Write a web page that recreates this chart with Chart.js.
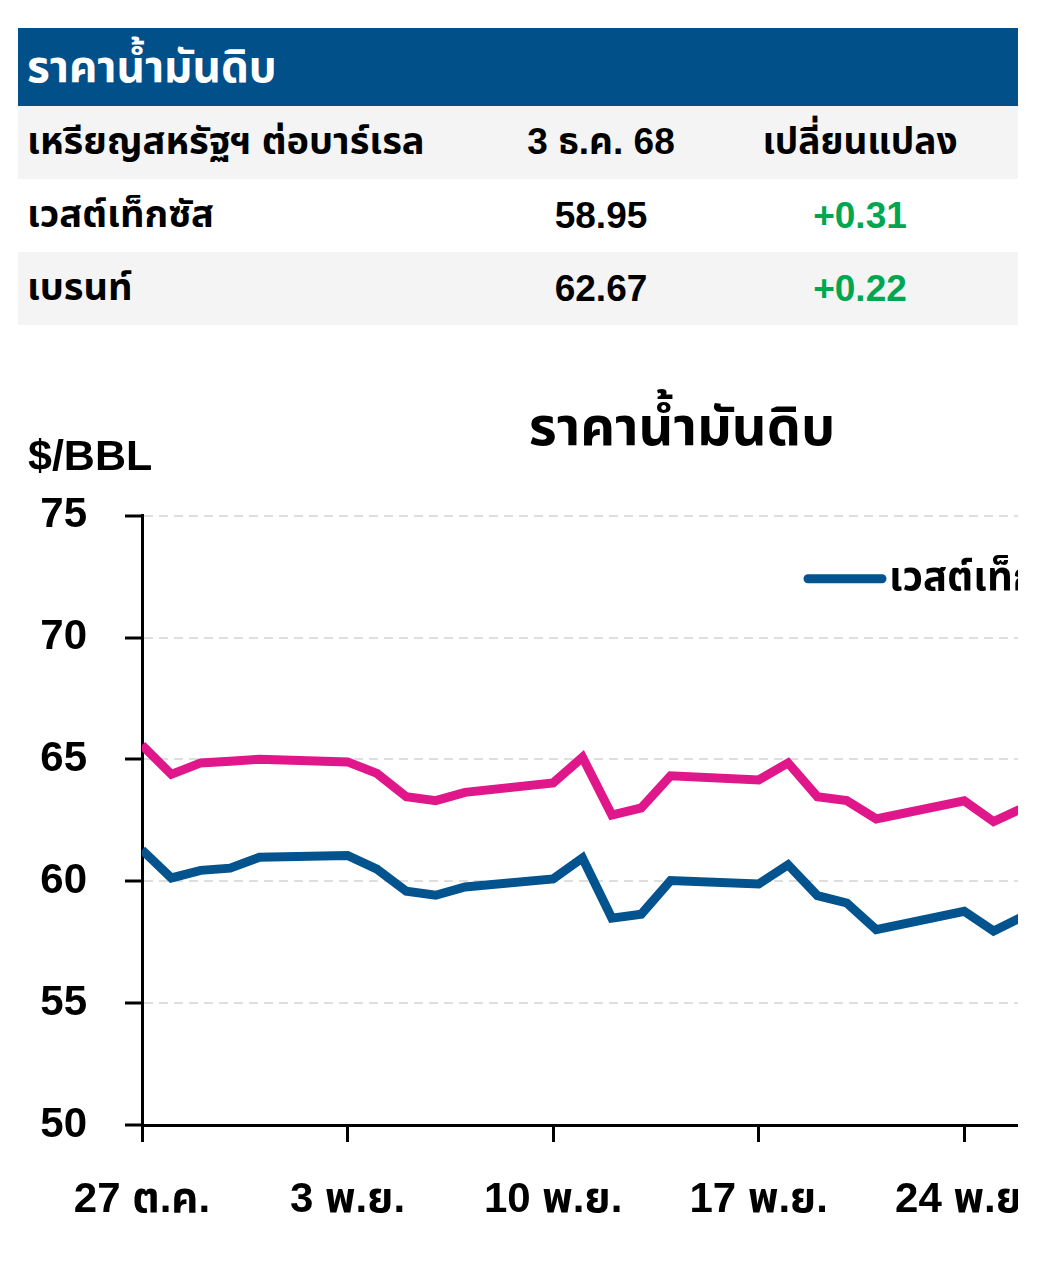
<!DOCTYPE html>
<html>
<head>
<meta charset="utf-8">
<script src="https://cdn.jsdelivr.net/npm/chart.js@4.4.1/dist/chart.umd.min.js"></script>
<style>
	body { margin: 0; background: #fff; font-family: 'Liberation Sans', 'Noto Sans Thai', 'Noto Sans Thai UI', Arial, sans-serif; font-weight: bold; }
	#table { position: absolute; left: 18px; top: 28px; width: 1000px; }
	.row { display: grid; grid-template-columns: 472px 222px 296px 10px; align-items: center; height: 73px; font-size: 37px; color: #000; }
	.row div:first-child { padding-left: 9px; font-size: 38px; }
	.row div.c { text-align: center; }
	.head { background: #02508a; color: #fff; height: 78px; display: block; line-height: 78px; }
	.head div:first-child { font-size: 44px; }
	.grey { background: #f4f4f4; }
	.up { color: #00a650; }
	#wrap { position: absolute; left: 18px; top: 380px; width: 1000px; height: 838px; overflow: hidden; }
</style>
</head>
<body>
<div id="table">
	<div class="row head"><div>ราคาน้ำมันดิบ</div></div>
	<div class="row grey"><div>เหรียญสหรัฐฯ ต่อบาร์เรล</div><div class="c">3 ธ.ค. 68</div><div class="c">เปลี่ยนแปลง</div></div>
	<div class="row"><div>เวสต์เท็กซัส</div><div class="c">58.95</div><div class="c up">+0.31</div></div>
	<div class="row grey"><div>เบรนท์</div><div class="c">62.67</div><div class="c up">+0.22</div></div>
</div>
<div id="wrap"><canvas id="chart" width="1328" height="838"></canvas></div>
<script>
// days counted from 27 Oct
var days = [0, 1, 2, 3, 4, 7, 8, 9, 10, 11, 14, 15, 16, 17, 18, 21, 22, 23, 24, 25, 28, 29, 30, 32, 35, 36, 37];
var wti = [61.29, 60.14, 60.45, 60.54, 60.99, 61.06, 60.50, 59.59, 59.43, 59.77, 60.10, 60.96, 58.49, 58.65, 60.03,
	59.89, 60.68, 59.41, 59.11, 58.02, 58.77, 57.96, 58.56, 58.55, 59.32, 58.64, 58.95];
var brent = [65.59, 64.39, 64.86, 64.93, 65.01, 64.90, 64.43, 63.47, 63.31, 63.65, 64.04, 65.09, 62.72, 63.01, 64.33,
	64.16, 64.86, 63.47, 63.31, 62.56, 63.30, 62.45, 63.01, 63.20, 63.17, 62.45, 62.67];
var tickDays = [0, 7, 14, 21, 28, 35];
var tickLabels = ['27 ต.ค.', '3 พ.ย.', '10 พ.ย.', '17 พ.ย.', '24 พ.ย.', '1 ธ.ค.'];
var seriesNames = ['เวสต์เท็กซัส', 'เบรนท์'];

var FONT = "'Liberation Sans', 'Noto Sans Thai', 'Noto Sans Thai UI', Arial, sans-serif";

function toPoints(ys) {
	var pts = [];
	for (let i = 0; i < days.length; i++) {
		pts.push({x: days[i], y: ys[i]});
	}
	return pts;
}

// unit label and legend drawn inside the plot, like the original
const extras = {
	id: 'extras',
	afterDraw(chart) {
		const {ctx, chartArea} = chart;
		ctx.save();
		ctx.fillStyle = '#000';
		ctx.font = 'bold 43px ' + FONT;
		ctx.textBaseline = 'middle';
		ctx.textAlign = 'left';
		ctx.fillText('$/BBL', 10, chartArea.top - 58);

		ctx.font = 'bold 40px ' + FONT;
		let x = chartArea.left + 666;
		const y = chartArea.top + 63;
		chart.data.datasets.forEach((ds) => {
			ctx.strokeStyle = ds.borderColor;
			ctx.lineWidth = 9;
			ctx.lineCap = 'round';
			ctx.beginPath();
			ctx.moveTo(x, y);
			ctx.lineTo(x + 74, y);
			ctx.stroke();
			ctx.fillText(ds.label, x + 81, y);
			x += 81 + ctx.measureText(ds.label).width + 40;
		});
		ctx.restore();
	}
};

var chart = new Chart(document.getElementById('chart'), {
	type: 'line',
	data: {
		datasets: [
			{
				label: seriesNames[0],
				data: toPoints(wti),
				borderColor: '#03538f',
				borderWidth: 9,
				pointRadius: 0,
				tension: 0,
			},
			{
				label: seriesNames[1],
				data: toPoints(brent),
				borderColor: '#e0178a',
				borderWidth: 9,
				pointRadius: 0,
				tension: 0,
			},
		],
	},
	options: {
		responsive: false,
		animation: false,
		layout: { padding: 0 },
		scales: {
			x: {
				type: 'linear',
				min: 0,
				max: 41,
				afterBuildTicks: (s) => { s.ticks = tickDays.map((v) => ({value: v})); },
				afterFit: (s) => { s.height = 93; },
				grid: {
					drawOnChartArea: false,
					tickLength: 17,
					tickWidth: 3,
					tickColor: '#000',
				},
				border: { color: '#000', width: 3 },
				ticks: {
					padding: 33,
					maxRotation: 0,
					autoSkip: false,
					color: '#000',
					font: { family: FONT, size: 42, weight: 'bold' },
					callback: (v) => tickLabels[tickDays.indexOf(v)],
				},
			},
			y: {
				min: 50,
				max: 75,
				afterFit: (s) => { s.width = 124; },
				grid: {
					color: '#dedede',
					lineWidth: 2,
					tickLength: 17,
					tickWidth: 3,
					tickColor: '#000',
				},
				border: { color: '#000', width: 3, dash: [9, 6] },
				ticks: {
					stepSize: 5,
					padding: 38,
					color: '#000',
					font: { family: FONT, size: 42, weight: 'bold' },
				},
			},
		},
		plugins: {
			legend: { display: false },
			tooltip: { enabled: false },
			title: {
				display: true,
				text: 'ราคาน้ำมันดิบ',
				color: '#000',
				font: { family: FONT, size: 54, weight: 'bold' },
				padding: { top: 18, bottom: 53 },
			},
		},
	},
	plugins: [extras],
});
</script>
</body>
</html>
